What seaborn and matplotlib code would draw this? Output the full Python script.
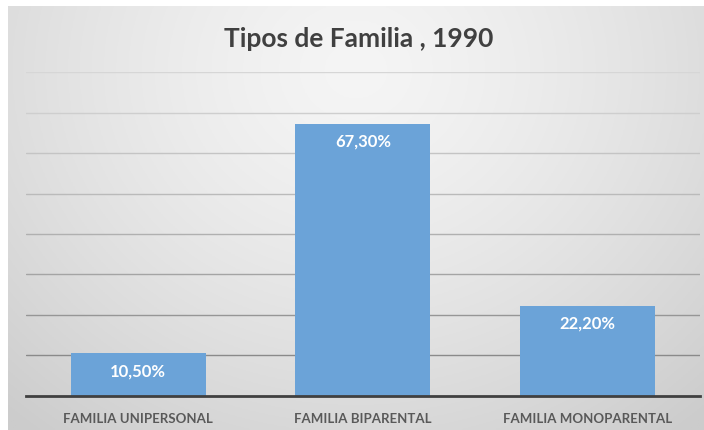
import numpy as np
import pandas as pd
import matplotlib
matplotlib.use("Agg")
import matplotlib.pyplot as plt
import seaborn as sns

categories = ["FAMILIA UNIPERSONAL", "FAMILIA BIPARENTAL", "FAMILIA MONOPARENTAL"]
values = [10.5, 67.3, 22.2]
title = "Tipos de Familia , 1990"

df = pd.DataFrame({"cat": categories, "val": values})

sns.set_theme(style="white")
plt.rcParams["font.family"] = ["Lato", "DejaVu Sans"]

W, H = 704, 431
fig = plt.figure(figsize=(W / 100, H / 100), dpi=100, facecolor="white")

# gradient background panel
bx0, by0 = 8, 7
bg = fig.add_axes([bx0 / W, 0, (W - bx0) / W, (H - by0) / H])
ny, nx = 200, 300
yy, xx = np.mgrid[0:1:ny * 1j, 0:1:nx * 1j]
r = np.sqrt(((xx - 0.5) / 0.75) ** 2 + ((yy - 0.15) / 1.1) ** 2)
r = np.clip(r, 0, 1)
c = 0.96 - (0.96 - 0.80) * r ** 1.4
img = np.dstack([c, c, c])
bg.imshow(img, aspect="auto", extent=[0, 1, 1, 0])
bg.set_axis_off()

ax = fig.add_axes([26 / W, (H - 396.5) / H, (699.5 - 26) / W, (396.5 - 73.3) / H])
ax.set_facecolor("none")
sns.barplot(data=df, x="cat", y="val", color="#6BA3D8", saturation=1, width=0.6,
            linewidth=0, edgecolor="none", ax=ax)
ax.set_ylim(0, 80)
ax.set_xlim(-0.5, 2.5)
ax.set_yticks(np.arange(10, 81, 10))
ax.yaxis.grid(True, linewidth=1)
grid_colors = ["#8a8a8a", "#969696", "#a4a4a4", "#b0b0b0", "#bababa", "#c4c4c4", "#cecece", "#d6d6d6"]
for gl, gc in zip(ax.yaxis.get_gridlines(), grid_colors):
    gl.set_color(gc)
ax.set_axisbelow(True)
ax.tick_params(axis="y", left=False, labelleft=False)
ax.tick_params(axis="x", bottom=False, pad=6, labelsize=9.5, labelcolor="#595959")
for lab in ax.get_xticklabels():
    lab.set_fontweight("bold")
for s in ["top", "left", "right"]:
    ax.spines[s].set_visible(False)
ax.spines["bottom"].set_color("#404040")
ax.spines["bottom"].set_linewidth(2)
ax.set_xlabel("")
ax.set_ylabel("")

labels = [f"{v:.2f}".replace(".", ",") + "%" for v in values]
ax.bar_label(ax.containers[0], labels=labels, padding=-18, color="white",
             fontsize=12, fontweight="bold")

fig.text(359 / W, 1 - 46.7 / H, title, ha="center", va="baseline",
         fontsize=19, fontweight="bold", color="#404040")

fig.savefig("out.png", dpi=100, facecolor="white")
